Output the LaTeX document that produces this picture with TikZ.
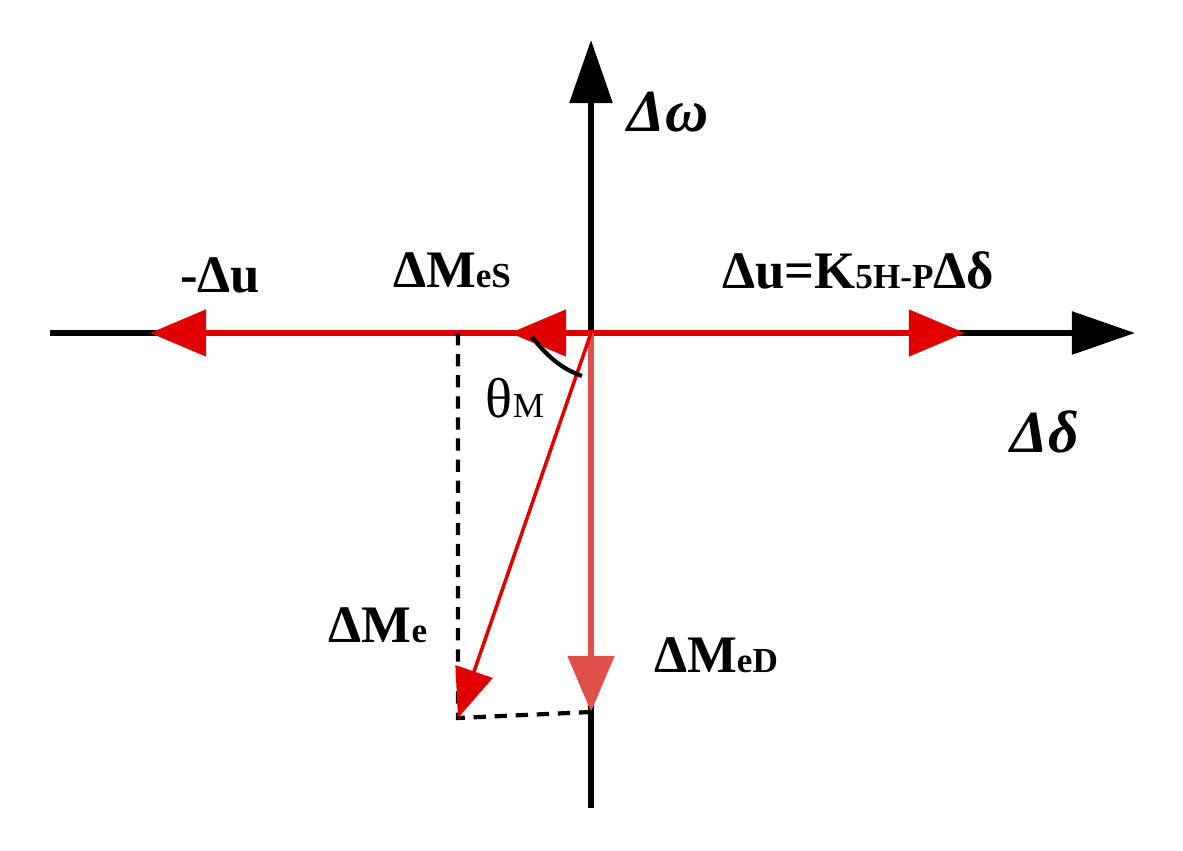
\documentclass[tikz,border=0pt]{standalone}
\usepackage{fontspec}
\setmainfont{Liberation Serif}
\usetikzlibrary{arrows.meta}
\definecolor{rd}{HTML}{E00000}
\definecolor{lrd}{HTML}{E0504A}
\newcommand{\sbs}[1]{{\fontsize{20}{20}\selectfont #1}}
\begin{document}
\begin{tikzpicture}[x=0.02cm,y=-0.02cm,
  axis/.style={line width=3.2pt,-{Triangle[length=36pt,width=24pt]}},
  big/.style={line width=3.6pt,rd,-{Triangle[length=32pt,width=26pt]}},
  lbl/.style={font=\fontsize{30}{30}\selectfont\bfseries, inner sep=0pt},
  dsh/.style={line width=2.4pt,dash pattern=on 7pt off 5pt}]
\useasboundingbox (0,0) rectangle (1183,851);
\coordinate (O) at (591,333);
\coordinate (L) at (50,333);
\coordinate (R) at (1135,333);
\coordinate (B) at (591,808);
\coordinate (T) at (591,40);
\coordinate (C) at (458,718);
\coordinate (D) at (591,712);
\coordinate (S) at (458,333);
\draw[axis] (L) -- (R);
\draw[line width=3.2pt] (B) -- (591,705);
\draw[axis] (591,340) -- (T);
\draw[big] (O) -- (965,333);
\draw[big] (O) -- (150,333);
\draw[big] (O) -- (510,333);
\draw[line width=3.6pt,lrd,-{Triangle[length=32pt,width=26pt]}] (O) -- (D);
\draw[dsh] (S) -- (C) -- (D);
\draw[line width=2pt,rd,-{Triangle[length=28pt,width=22pt]}] (O) -- (C);
\draw[line width=2.4pt] (532,337) .. controls (550,360) and (565,370) .. (582,376);
\node[lbl,font=\fontsize{34}{34}\selectfont\itshape\bfseries] (w) at (668,112) {Δω};
\node[lbl,font=\fontsize{34}{34}\selectfont\itshape\bfseries] (d) at (1045,432) {Δδ};
\node[lbl] (mu) at (220,275) {-Δu};
\node[lbl] (mes) at (452,270) {ΔM\sbs{eS}};
\node[lbl] (u) at (858,270) {Δu=K\sbs{5H-P}Δδ};
\node[lbl,font=\fontsize{32}{32}\selectfont] (th) at (515,398) {θ\sbs{M}};
\node[lbl] (me) at (378,625) {ΔM\sbs{e}};
\node[lbl] (med) at (716,655) {ΔM\sbs{eD}};
\end{tikzpicture}
\end{document}
